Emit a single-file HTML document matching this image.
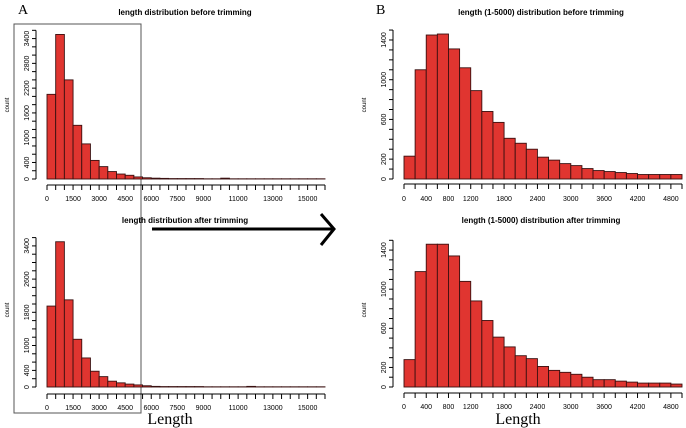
<!DOCTYPE html>
<html><head><meta charset="utf-8"><style>
body{margin:0;background:#fff}
svg{display:block;font-family:"Liberation Sans",sans-serif}
</style></head><body>
<svg id="c" width="686" height="428" viewBox="0 0 686 428">
<text x="18" y="14" font-family="Liberation Serif" font-size="14">A</text>
<text x="376" y="14" font-family="Liberation Serif" font-size="14">B</text>
<rect x="14" y="24" width="127" height="389" fill="none" stroke="#555" stroke-width="1"/>
<g stroke="#000" stroke-width="3" fill="none">
<line x1="152" y1="229" x2="333" y2="229"/><polyline points="321,214 334,229 321,245"/></g>
<text x="170" y="424" text-anchor="middle" font-family="Liberation Serif" font-size="16">Length</text>
<text x="518" y="424" text-anchor="middle" font-family="Liberation Serif" font-size="16">Length</text>
</svg>
<script>
const beforeAll=[2050,3500,2400,1300,850,450,300,180,120,90,50,30,20,15,10,10,10,10,5,5,20,5,5,5,5,5,5,5,5,5,5,5];
const afterAll=[1950,3500,2100,1150,700,380,250,140,100,70,50,30,15,10,10,10,10,10,5,5,5,5,5,15,5,5,5,5,5,5,5,5];
const before5k=[230,1100,1450,1460,1310,1120,890,680,570,410,360,300,220,190,155,135,105,85,75,65,55,45,45,45,45];
const after5k=[280,1180,1460,1460,1340,1080,880,680,510,410,320,290,210,170,150,130,100,75,75,60,50,40,40,40,30];
const leftXTicks=[0,1500,3000,4500,6000,7500,9000,11000,13000,15000];
const rightXTicks=[0,400,800,1200,1800,2400,3000,3600,4200,4800];
const topLeftYTicks=[0,400,1000,1600,2200,2800,3400];
const botLeftYTicks=[0,400,1000,1800,2600,3400];
const rightYTicks=[0,200,600,1000,1400];
const svg=document.getElementById('c');
const NS='http://www.w3.org/2000/svg';
function mk(t,a){const e=document.createElementNS(NS,t);for(const k in a)e.setAttribute(k,a[k]);svg.appendChild(e);return e;}
function panel(p){
  const x=v=>p.x0+(v-0)/(p.xmax)*(p.x1-p.x0);
  const y=v=>p.base-v*p.ys;
  const t=mk('text',{x:p.tx,y:p.ty,'text-anchor':'middle','font-size':8,'font-weight':'bold'});t.textContent=p.title;
  
  
  const cl=mk('text',{x:0,y:0,'font-size':6,'text-anchor':'middle',transform:`translate(${p.cx},${p.cy}) rotate(-90)`});cl.textContent='count';
  
  
  p.data.forEach((v,i)=>{
    const r=mk('rect',{x:x(i*p.bw),y:y(v),width:x((i+1)*p.bw)-x(i*p.bw),height:v*p.ys,fill:'#e03530',stroke:'#3a1010','stroke-width':0.9});
    
    
  });
  const ax=mk('line',{x1:x(0),x2:x(p.xmax),y1:p.tky,y2:p.tky,stroke:'#000','stroke-width':1});
  
  
  for(let v=0;v<=p.xmax+1e-6;v+=p.bw){mk('line',{x1:x(v),x2:x(v),y1:p.tky,y2:p.tky+5,stroke:'#000','stroke-width':1});}
  p.xt.forEach(v=>{const e=mk('text',{x:x(v),y:p.tly,'text-anchor':'middle','font-size':7});e.textContent=v;
    
    });
  const ya=mk('line',{x1:p.yax,x2:p.yax,y1:y(0),y2:y(p.ymax),stroke:'#000','stroke-width':1});
  
  
  for(let v=0;v<=p.ymax;v+=p.ystep){mk('line',{x1:p.yax-4,x2:p.yax,y1:y(v),y2:y(v),stroke:'#000','stroke-width':1});}
  p.yt.forEach(v=>{const e=mk('text',{x:0,y:0,'text-anchor':'middle','font-size':7,transform:`translate(${p.yax-7},${y(v)}) rotate(-90)`});e.textContent=v;
    
    });
}
panel({id:'top-left',title:'length distribution before trimming',tx:185,ty:15,cx:9,cy:105,x0:47,x1:325,xmax:16000,bw:500,base:179,ys:0.0413,data:beforeAll,tky:185,tly:201,xt:leftXTicks,yax:36,ymax:3600,ystep:200,yt:topLeftYTicks});
panel({id:'bottom-left',title:'length distribution after trimming',tx:185,ty:223,cx:9,cy:310,x0:47,x1:325,xmax:16000,bw:500,base:387,ys:0.0415,data:afterAll,tky:394,tly:410,xt:leftXTicks,yax:36,ymax:3600,ystep:200,yt:botLeftYTicks});
panel({id:'top-right',title:'length (1-5000) distribution before trimming',tx:541,ty:15,cx:366,cy:105,x0:404,x1:682,xmax:5000,bw:200,base:179,ys:0.0993,data:before5k,tky:184,tly:201,xt:rightXTicks,yax:393,ymax:1500,ystep:100,yt:rightYTicks});
panel({id:'bottom-right',title:'length (1-5000) distribution after trimming',tx:541,ty:223,cx:366,cy:310,x0:404,x1:682,xmax:5000,bw:200,base:387,ys:0.0978,data:after5k,tky:393,tly:409,xt:rightXTicks,yax:393,ymax:1500,ystep:100,yt:rightYTicks});
</script>
</body></html>
